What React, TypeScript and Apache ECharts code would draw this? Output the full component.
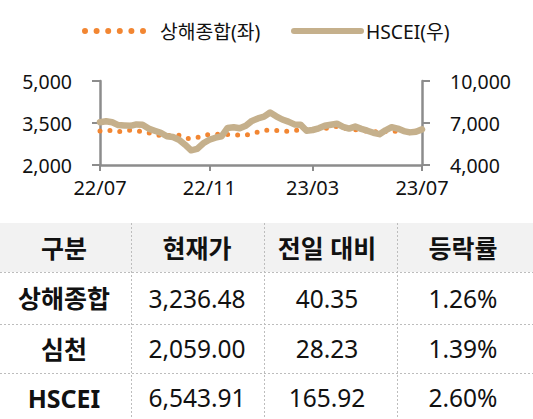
import React, { useEffect, useRef } from 'react';
import * as echarts from 'echarts';

const dates = [
  '2022-07-01', '2022-07-08', '2022-07-15', '2022-07-22', '2022-07-29',
  '2022-08-05', '2022-08-12', '2022-08-19', '2022-08-26',
  '2022-09-02', '2022-09-09', '2022-09-16', '2022-09-23', '2022-09-30',
  '2022-10-07', '2022-10-14', '2022-10-21', '2022-10-28',
  '2022-11-04', '2022-11-11', '2022-11-18', '2022-11-25',
  '2022-12-02', '2022-12-09', '2022-12-16', '2022-12-23', '2022-12-30',
  '2023-01-06', '2023-01-13', '2023-01-20', '2023-01-27',
  '2023-02-03', '2023-02-10', '2023-02-17', '2023-02-24',
  '2023-03-03', '2023-03-10', '2023-03-17', '2023-03-24', '2023-03-31',
  '2023-04-07', '2023-04-14', '2023-04-21', '2023-04-28',
  '2023-05-05', '2023-05-12', '2023-05-19', '2023-05-26',
  '2023-06-02', '2023-06-09', '2023-06-16', '2023-06-23', '2023-06-30',
  '2023-07-07',
];

const shanghai = [
  3210, 3240, 3230, 3180, 3230, 3240, 3200, 3210, 3150, 3080,
  3060, 3050, 3060, 3060, 2960, 2940, 2980, 3070, 3090, 3100,
  3090, 3090, 3085, 3070, 3060, 3150, 3170, 3240, 3250, 3230,
  3210, 3200, 3230, 3260, 3240, 3250, 3280, 3290, 3370, 3380,
  3320, 3290, 3260, 3210, 3220, 3200, 3160, 3200, 3170, 3230,
  3200, 3210, 3200, 3236.48,
];

const hscei = [
  7060, 7120, 7050, 6850, 6830, 6800, 6900, 6870, 6600, 6450,
  6300, 6050, 6000, 5800, 5450, 5050, 5150, 5550, 5800, 5950,
  6050, 6650, 6700, 6620, 6800, 7150, 7330, 7450, 7750, 7480,
  7250, 7100, 6900, 6880, 6450, 6500, 6620, 6800, 6880, 6950,
  6720, 6600, 6750, 6580, 6450, 6300, 6200, 6480, 6700, 6600,
  6420, 6330, 6380, 6543.91,
];

const xTickDates = ['2022-07-01', '2022-11-04', '2023-03-03', '2023-07-07'];
const leftTicks = [2000, 3500, 5000];
const rightTicks = [4000, 7000, 10000];
const seriesNames = ['상해종합(좌)', 'HSCEI(우)'];

const tableHeader = ['구분', '현재가', '전일 대비', '등락률'];
const tableRows = [
  ['상해종합', '3,236.48', '40.35', '1.26%'],
  ['심천', '2,059.00', '28.23', '1.39%'],
  ['HSCEI', '6,543.91', '165.92', '2.60%'],
];

const FONT = '"Noto Sans", "Noto Sans CJK KR", sans-serif';
const ORANGE = '#F28632';
const TAN = '#C5B08C';
const AXIS = '#8C8C8C';
const TEXT = '#111111';

const fmt = (v: number) => v.toLocaleString('en-US');

function buildGraphic() {
  const els: any[] = [];
  // legend
  els.push({
    type: 'line',
    shape: { x1: 85, y1: 31, x2: 144, y2: 31 },
    style: { stroke: ORANGE, lineWidth: 6, lineDash: [0, 11.6], lineCap: 'round' },
  });
  els.push({
    type: 'text',
    x: 160, y: 31,
    style: { text: seriesNames[0], font: `19.3px ${FONT}`, fill: TEXT, textAlign: 'left', textVerticalAlign: 'middle' },
  });
  els.push({
    type: 'line',
    shape: { x1: 294, y1: 31, x2: 361, y2: 31 },
    style: { stroke: TAN, lineWidth: 6, lineCap: 'round' },
  });
  els.push({
    type: 'text',
    x: 366, y: 31,
    style: { text: seriesNames[1], font: `19.3px ${FONT}`, fill: TEXT, textAlign: 'left', textVerticalAlign: 'middle' },
  });

  // table
  const colX = [0, 131, 264, 397, 533];
  const colCenter = [64, 197, 327, 463];
  const rowTop = [223, 272, 324, 373, 422];
  els.push({
    type: 'rect',
    shape: { x: 0, y: rowTop[0], width: 533, height: rowTop[1] - rowTop[0] },
    style: { fill: '#F2F2F2' },
    silent: true,
  });
  for (let i = 1; i <= 3; i++) {
    els.push({
      type: 'line',
      shape: { x1: 0, y1: rowTop[i] + 0.5, x2: 533, y2: rowTop[i] + 0.5 },
      style: { stroke: '#BDBDBD', lineWidth: 1, lineDash: [2, 2] },
    });
  }
  for (let c = 1; c <= 3; c++) {
    els.push({
      type: 'line',
      shape: { x1: colX[c] + 0.5, y1: rowTop[0], x2: colX[c] + 0.5, y2: 419 },
      style: { stroke: '#BDBDBD', lineWidth: 1, lineDash: [2, 2] },
    });
  }
  tableHeader.forEach((h, c) => {
    els.push({
      type: 'text',
      x: colCenter[c], y: (rowTop[0] + rowTop[1]) / 2,
      style: { text: h, font: `bold 25px ${FONT}`, fill: TEXT, textAlign: 'center', textVerticalAlign: 'middle' },
    });
  });
  tableRows.forEach((row, r) => {
    const cy = (rowTop[r + 1] + rowTop[r + 2]) / 2;
    row.forEach((cell, c) => {
      els.push({
        type: 'text',
        x: colCenter[c], y: cy,
        style: {
          text: cell,
          font: `${c === 0 ? 'bold ' : ''}${c === 0 ? 25 : 24.5}px ${FONT}`,
          fill: TEXT, textAlign: 'center', textVerticalAlign: 'middle',
        },
      });
    });
  });
  return els;
}

export default function App() {
  const ref = useRef<HTMLDivElement>(null);
  useEffect(() => {
    const chart = echarts.init(ref.current!, null, { renderer: 'svg' });
    const option: any = {
      animation: false,
      backgroundColor: '#ffffff',
      textStyle: { fontFamily: FONT },
      grid: { left: 100, top: 81, width: 322, height: 84, containLabel: false },
      xAxis: {
        type: 'category',
        data: dates,
        boundaryGap: false,
        axisLine: { show: true, lineStyle: { color: AXIS, width: 2.5 } },
        axisTick: {
          show: true, length: 6, inside: false,
          interval: (_i: number, v: string) => xTickDates.includes(v),
          lineStyle: { color: AXIS, width: 2 },
        },
        axisLabel: {
          interval: (_i: number, v: string) => xTickDates.includes(v),
          formatter: (v: string) => `${v.slice(2, 4)}/${v.slice(5, 7)}`,
          color: TEXT, fontSize: 20, fontFamily: FONT, margin: 12,
        },
        splitLine: { show: false },
      },
      yAxis: [
        {
          type: 'value', min: 2000, max: 5000, position: 'left',
          axisLine: { show: true, lineStyle: { color: AXIS, width: 2.5 } },
          axisTick: { show: true, length: 8, customValues: leftTicks, lineStyle: { color: AXIS, width: 2 } },
          axisLabel: { customValues: leftTicks, formatter: fmt, color: TEXT, fontSize: 19.5, fontFamily: FONT, margin: 28 },
          splitLine: { show: false },
        },
        {
          type: 'value', min: 4000, max: 10000, position: 'right',
          axisLine: { show: true, lineStyle: { color: AXIS, width: 2.5 } },
          axisTick: { show: true, length: 8, customValues: rightTicks, lineStyle: { color: AXIS, width: 2 } },
          axisLabel: { customValues: rightTicks, formatter: fmt, color: TEXT, fontSize: 19.5, fontFamily: FONT, margin: 28 },
          splitLine: { show: false },
        },
      ],
      series: [
        {
          name: seriesNames[0], type: 'line', yAxisIndex: 0, data: shanghai,
          symbol: 'none', showSymbol: false, z: 2,
          lineStyle: { color: ORANGE, width: 5, type: [0, 10], cap: 'round' },
        },
        {
          name: seriesNames[1], type: 'line', yAxisIndex: 1, data: hscei,
          symbol: 'none', showSymbol: false, z: 3,
          lineStyle: { color: TAN, width: 6.5, cap: 'round', join: 'round' },
        },
      ],
      graphic: buildGraphic(),
    };
    chart.setOption(option);
    return () => chart.dispose();
  }, []);
  return (
    <div
      ref={ref}
      style={{ position: 'absolute', left: 0, top: 0, width: 533, height: 419, background: '#fff' }}
    />
  );
}
